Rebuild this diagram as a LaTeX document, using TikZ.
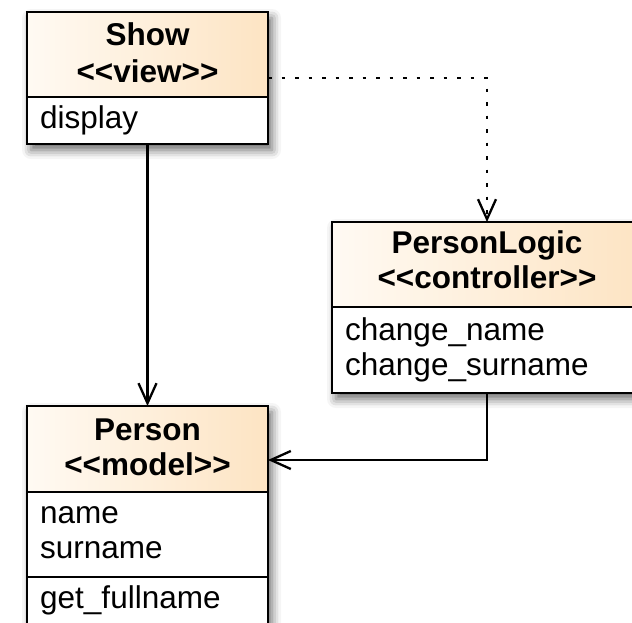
\documentclass[tikz,border=0pt]{standalone}
\usepackage{fontspec}
\setmainfont{Liberation Sans}
\usetikzlibrary{arrows.meta,shadows.blur}
\definecolor{hdrL}{HTML}{FFFAF3}
\definecolor{hdrR}{HTML}{FDE4C3}
\newcommand\umlfont{\fontsize{31.5pt}{35pt}\selectfont}

\begin{document}
\begin{tikzpicture}[x=1pt,y=-1pt,font=\umlfont,
  frame/.style={anchor=north west, inner sep=0pt, outer sep=0pt, fill=white,
    blur shadow={shadow xshift=4pt, shadow yshift=-6pt, shadow blur radius=9pt, shadow opacity=60}},
  part/.style={anchor=north west, draw=black, line width=2.7pt, inner sep=0pt, outer sep=0pt},
  hdr/.style={part, left color=hdrL, right color=hdrR},
  bodypart/.style={part, fill=white},
  title/.style={anchor=base, inner sep=0pt, font=\umlfont\bfseries},
  member/.style={anchor=base west, inner sep=0pt},
  arr/.style={line width=2.3pt, -{Straight Barb[length=20pt,width=18pt]}},
  dep/.style={arr, dash pattern=on 3.5pt off 10pt}
]
\useasboundingbox (0,0) rectangle (632,622);
\clip (0,0) rectangle (632,622);

% shadowed backgrounds of the three classes
\node[frame, minimum width=241pt, minimum height=132pt] (showFrame) at (27,12) {};
\node[frame, minimum width=310pt, minimum height=171pt] (plFrame) at (332,222) {};
\node[frame, minimum width=241pt, minimum height=231pt] (personFrame) at (27,406) {};

% Show <<view>>
\node[hdr, minimum width=241pt, minimum height=85pt] (showHead) at (27,12) {};
\node[bodypart, minimum width=241pt, minimum height=47pt] (showBody) at (27,97) {};
\node[title] (showName) at (147.5,45) {Show};
\node[title] (showStereo) at (147.5,82) {<{}<view>{}>};
\node[member] (showOp) at (40,128) {display};

% PersonLogic <<controller>>
\node[hdr, minimum width=310pt, minimum height=85pt] (plHead) at (332,222) {};
\node[bodypart, minimum width=310pt, minimum height=86pt] (plBody) at (332,307) {};
\node[title] (plName) at (487,253) {PersonLogic};
\node[title] (plStereo) at (487,288) {<{}<controller>{}>};
\node[member] (plOpA) at (345,340) {change\_name};
\node[member] (plOpB) at (345,375) {change\_surname};

% Person <<model>>
\node[hdr, minimum width=241pt, minimum height=86pt] (personHead) at (27,406) {};
\node[bodypart, minimum width=241pt, minimum height=85pt] (personAttr) at (27,492) {};
\node[bodypart, minimum width=241pt, minimum height=60pt] (personOps) at (27,577) {};
\node[title] (personName) at (147.5,440) {Person};
\node[title] (personStereo) at (147.5,475) {<{}<model>{}>};
\node[member] (attrA) at (40,523) {name};
\node[member] (attrB) at (40,558) {surname};
\node[member] (opA) at (40,608) {get\_fullname};

% connectors
\coordinate (rowDep) at (0,78);
\coordinate (rowUse) at (0,460);
\draw[arr] (showBody.south) -- (personHead.north);
\draw[dep] (showHead.east |- rowDep) -| (plHead.north);
\draw[arr] (plBody.south) |- (personHead.east |- rowUse);
\end{tikzpicture}
\end{document}
